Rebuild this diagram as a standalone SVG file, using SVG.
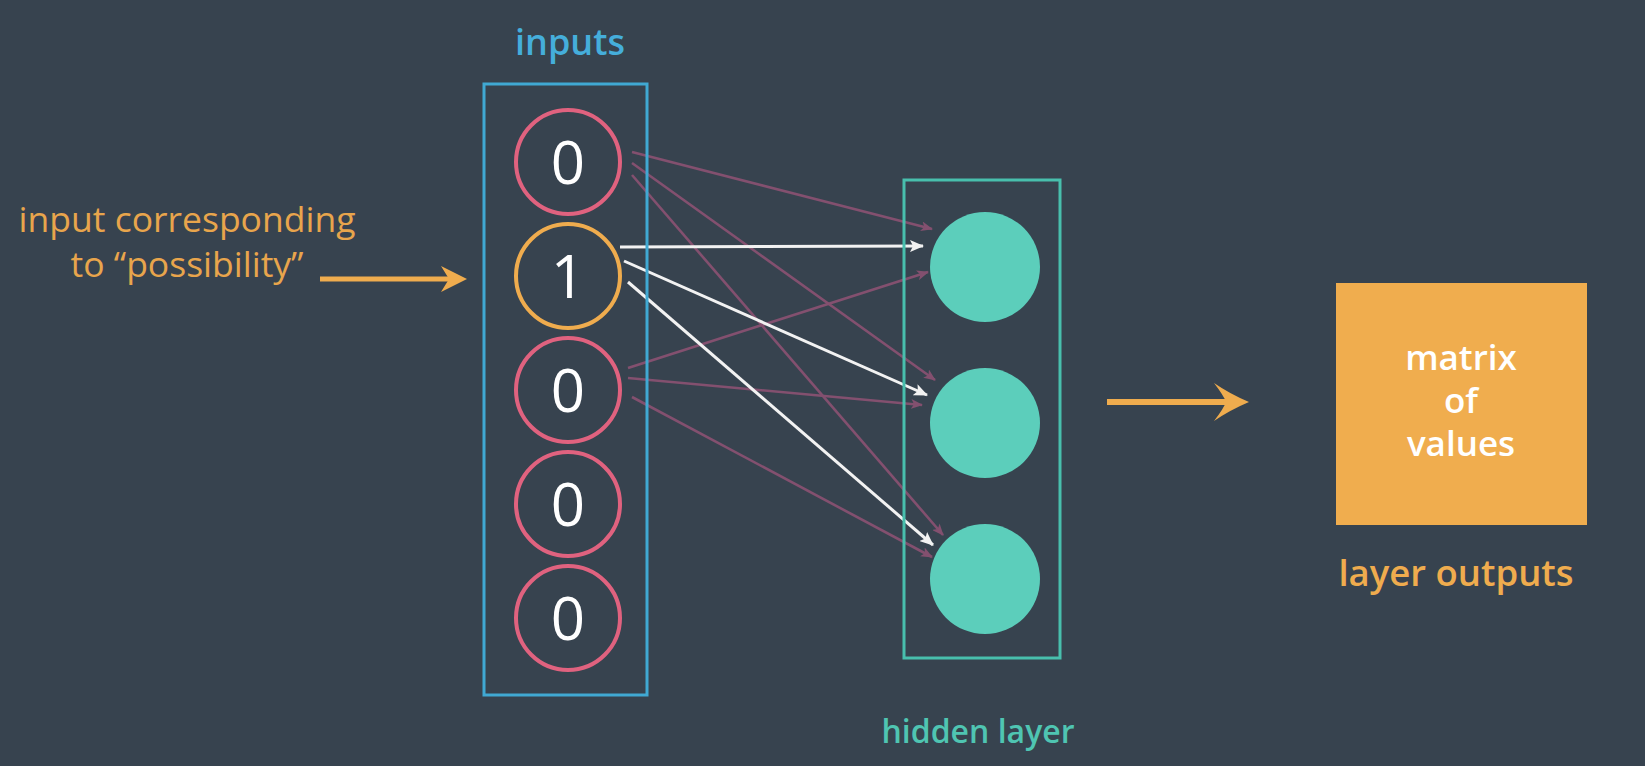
<svg xmlns="http://www.w3.org/2000/svg" width="1645" height="766" viewBox="0 0 1645 766">
<defs>
<style>
.t{font-family:"Open Sans","Liberation Sans",sans-serif}
.pink{stroke:#83506f;stroke-width:2.6;fill:none}
.white{stroke:#f2f2f2;stroke-width:3;fill:none}
.inc{fill:none;stroke:#e0627f;stroke-width:4}
.hid{fill:#5ccebb}
.dig{font-size:60px;fill:#ffffff;text-anchor:middle}
</style>
<marker id="ap" viewBox="0 0 12 10" refX="11" refY="5" markerWidth="12" markerHeight="10" markerUnits="userSpaceOnUse" orient="auto"><path d="M0,0 L12,5 L0,10 L3,5 Z" fill="#83506f"/></marker>
<marker id="aw" viewBox="0 0 14 12" refX="13" refY="6" markerWidth="14" markerHeight="12" markerUnits="userSpaceOnUse" orient="auto"><path d="M0,0 L14,6 L0,12 L3,6 Z" fill="#f2f2f2"/></marker>
</defs>
<rect width="1645" height="766" fill="#37434f"/>

<g id="connectors">
<line class="pink" x1="632" y1="152" x2="932" y2="229" marker-end="url(#ap)"/>
<line class="pink" x1="632" y1="163" x2="935" y2="380" marker-end="url(#ap)"/>
<line class="pink" x1="632" y1="175" x2="943" y2="535" marker-end="url(#ap)"/>
<line class="pink" x1="628" y1="368" x2="928" y2="272" marker-end="url(#ap)"/>
<line class="pink" x1="628" y1="378" x2="922" y2="405" marker-end="url(#ap)"/>
<line class="pink" x1="632" y1="397" x2="932" y2="557" marker-end="url(#ap)"/>
<line class="white" x1="620" y1="247" x2="923" y2="246" marker-end="url(#aw)"/>
<line class="white" x1="624" y1="261" x2="927" y2="395" marker-end="url(#aw)"/>
<line class="white" x1="628" y1="282" x2="933" y2="545" marker-end="url(#aw)"/>
<g id="arrow-in">
<line x1="320" y1="279" x2="455" y2="279" stroke="#efac4e" stroke-width="5"/>
<path d="M467,279 L441,266 L449,279 L441,292 Z" fill="#efac4e"/>
</g>
<g id="arrow-out">
<line x1="1107" y1="402" x2="1234" y2="402" stroke="#efac4e" stroke-width="6"/>
<path d="M1249,402 Q1230,394 1214,383 Q1224,396 1226,402 Q1224,408 1214,421 Q1230,410 1249,402 Z" fill="#efac4e"/>
</g>
</g>

<g id="inputs">
<rect x="484" y="84" width="163" height="611" fill="none" stroke="#40a9d3" stroke-width="3"/>
<text class="t" x="570" y="55" font-size="36" font-weight="600" fill="#45aedb" text-anchor="middle">inputs</text>
</g>
<g id="in0"><circle class="inc" cx="568" cy="162" r="52"/><text class="t dig" x="568" y="184">0</text></g>
<g id="in1"><circle cx="568" cy="276" r="52" fill="none" stroke="#efac4e" stroke-width="4"/><text class="t dig" x="568" y="298">1</text></g>
<g id="in2"><circle class="inc" cx="568" cy="390" r="52"/><text class="t dig" x="568" y="412">0</text></g>
<g id="in3"><circle class="inc" cx="568" cy="504" r="52"/><text class="t dig" x="568" y="526">0</text></g>
<g id="in4"><circle class="inc" cx="568" cy="618" r="52"/><text class="t dig" x="568" y="640">0</text></g>

<g id="hidden">
<rect x="904" y="180" width="156" height="478" fill="none" stroke="#48bfad" stroke-width="3"/>
<text class="t" x="978" y="743" font-size="32" font-weight="600" fill="#4fc5b2" text-anchor="middle">hidden layer</text>
</g>
<g id="h0"><circle class="hid" cx="985" cy="267" r="55"/></g>
<g id="h1"><circle class="hid" cx="985" cy="423" r="55"/></g>
<g id="h2"><circle class="hid" cx="985" cy="579" r="55"/></g>

<g id="label-input">
<text class="t" font-size="35.5" fill="#e8a54c" text-anchor="middle"><tspan x="187" y="232">input corresponding</tspan><tspan x="187" y="277">to “possibility”</tspan></text>
</g>

<g id="output">
<rect x="1336" y="283" width="251" height="242" fill="#f0ad4e"/>
<text class="t" font-size="35" font-weight="600" fill="#ffffff" text-anchor="middle"><tspan x="1461" y="370">matrix</tspan><tspan x="1461" y="413">of</tspan><tspan x="1461" y="456">values</tspan></text>
<text class="t" x="1456" y="586" font-size="36.5" font-weight="600" fill="#efac4e" text-anchor="middle">layer outputs</text>
</g>
</svg>
